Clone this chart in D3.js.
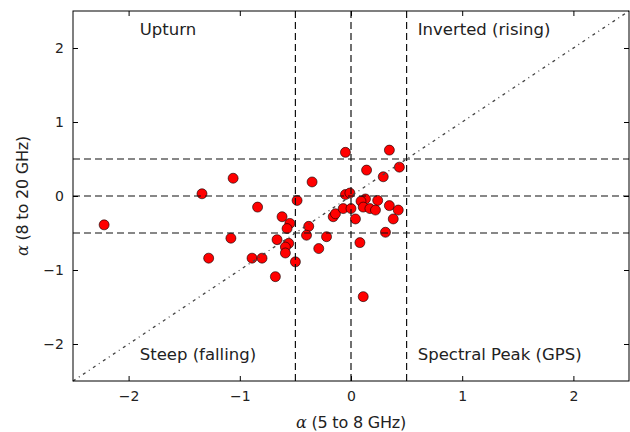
<!DOCTYPE html>
<meta charset="utf-8">
<body style="margin:0;background-color:white;">
<svg width="630" height="432"></svg>
<script src="https://cdn.jsdelivr.net/npm/d3@7"></script>
<script>

// spectral index pairs
var alphaLow = [-2.22, -1.34, -1.06, -0.84, -1.08, -1.28, -0.89, -0.80, -0.68, -0.665,
                -0.62, -0.55, -0.575, -0.56, -0.59, -0.59, -0.50, -0.485, -0.35, -0.38,
                -0.40, -0.29, -0.22, -0.16, -0.14, -0.07, 0.0, -0.05, -0.01, 0.04,
                0.08, 0.11, 0.14, -0.05, 0.345, 0.435, 0.29, 0.13, 0.09, 0.24,
                0.11, 0.17, 0.22, 0.345, 0.425, 0.38, 0.31];
var alphaHigh = [-0.39, 0.03, 0.24, -0.15, -0.57, -0.84, -0.84, -0.84, -1.09, -0.59,
                 -0.28, -0.37, -0.44, -0.64, -0.69, -0.77, -0.89, -0.06, 0.19, -0.41,
                 -0.53, -0.71, -0.55, -0.28, -0.24, -0.17, -0.17, 0.02, 0.04, -0.31,
                 -0.63, -1.36, 0.35, 0.59, 0.62, 0.39, 0.26, -0.04, -0.07, -0.06,
                 -0.15, -0.17, -0.19, -0.13, -0.19, -0.31, -0.49];
var tickValues = [-2, -1, 0, 1, 2];
var splitLines = [-0.5, 0, 0.5];
var regionLabels = ['Upturn', 'Inverted (rising)', 'Steep (falling)', 'Spectral Peak (GPS)'];
var regionX = [-1.9, 0.6, -1.9, 0.6];
var regionY = [2.2, 2.2, -2.2, -2.2];

var svg = d3.select('svg');
var x = d3.scaleLinear().domain([-2.5, 2.5]).range([73, 629]);
var y = d3.scaleLinear().domain([-2.5, 2.5]).range([381, 11]);
var font = 'DejaVu Sans, sans-serif';

var pts = d3.range(alphaLow.length).map(function(i) { return [alphaLow[i], alphaHigh[i]]; });

// points (lines sit on top, like matplotlib)
svg.append('g').selectAll('circle')
   .data(pts).enter().append('circle')
   .attr('cx', function(d) { return x(d[0]); })
   .attr('cy', function(d) { return y(d[1]); })
   .attr('r', 5)
   .attr('fill', '#ff0000')
   .attr('stroke', '#000')
   .attr('stroke-width', 0.6);

var lines = svg.append('g').attr('stroke', '#111').attr('fill', 'none');
splitLines.forEach(function(v) {
  lines.append('line')
       .attr('x1', x(v)).attr('x2', x(v)).attr('y1', y(-2.5)).attr('y2', y(2.5))
       .attr('stroke-width', 1.2).attr('stroke-dasharray', '7,4');
  lines.append('line')
       .attr('x1', x(-2.5)).attr('x2', x(2.5)).attr('y1', y(v)).attr('y2', y(v))
       .attr('stroke-width', 1.2).attr('stroke-dasharray', '7,4');
});
// one-to-one line
lines.append('line')
     .attr('x1', x(-2.5)).attr('y1', y(-2.5)).attr('x2', x(2.5)).attr('y2', y(2.5))
     .attr('stroke', '#444').attr('stroke-width', 1.3).attr('stroke-dasharray', '3,4,1,4');

// axes with inward ticks on all four sides
function styleAxis(g) {
  g.select('.domain').remove();
  g.selectAll('text').attr('font-family', font).attr('font-size', 14).attr('fill', '#222');
  g.selectAll('line').attr('stroke', '#000');
}
var fmt = function(d) { return d < 0 ? '\u2212' + (-d) : d; };
svg.append('g').attr('transform', 'translate(0,381)')
   .call(d3.axisBottom(x).tickValues(tickValues).tickFormat(fmt).tickSizeInner(-5).tickPadding(10))
   .call(styleAxis);
svg.append('g').attr('transform', 'translate(0,11)')
   .call(d3.axisTop(x).tickValues(tickValues).tickFormat('').tickSizeInner(-5))
   .call(styleAxis);
svg.append('g').attr('transform', 'translate(73,0)')
   .call(d3.axisLeft(y).tickValues(tickValues).tickFormat(fmt).tickSizeInner(-5).tickPadding(9))
   .call(styleAxis);
svg.append('g').attr('transform', 'translate(629,0)')
   .call(d3.axisRight(y).tickValues(tickValues).tickFormat('').tickSizeInner(-5))
   .call(styleAxis);

svg.append('rect')
   .attr('x', x(-2.5)).attr('y', y(2.5))
   .attr('width', x(2.5) - x(-2.5)).attr('height', y(-2.5) - y(2.5))
   .attr('fill', 'none').attr('stroke', '#000').attr('stroke-width', 1);

svg.append('g').selectAll('text')
   .data(regionLabels).enter().append('text')
   .attr('x', function(d, i) { return x(regionX[i]); })
   .attr('y', function(d, i) { return y(regionY[i]); })
   .attr('dy', '0.1em')
   .attr('font-family', font).attr('font-size', 16.5).attr('fill', '#222')
   .text(function(d) { return d; });

var xl = svg.append('text')
   .attr('x', x(0)).attr('y', 428).attr('text-anchor', 'middle')
   .attr('font-family', font).attr('font-size', 16).attr('letter-spacing', -0.2).attr('fill', '#222');
xl.append('tspan').attr('font-style', 'italic').attr('font-family', 'DejaVu Serif, serif').text('\u03b1');
xl.append('tspan').text(' (5 to 8 GHz)');

var yl = svg.append('text')
   .attr('transform', 'translate(28,' + y(0) + ') rotate(-90)')
   .attr('text-anchor', 'middle')
   .attr('font-family', font).attr('font-size', 16).attr('letter-spacing', -0.2).attr('fill', '#222');
yl.append('tspan').attr('font-style', 'italic').attr('font-family', 'DejaVu Serif, serif').text('\u03b1');
yl.append('tspan').text(' (8 to 20 GHz)');

</script>
</body>
